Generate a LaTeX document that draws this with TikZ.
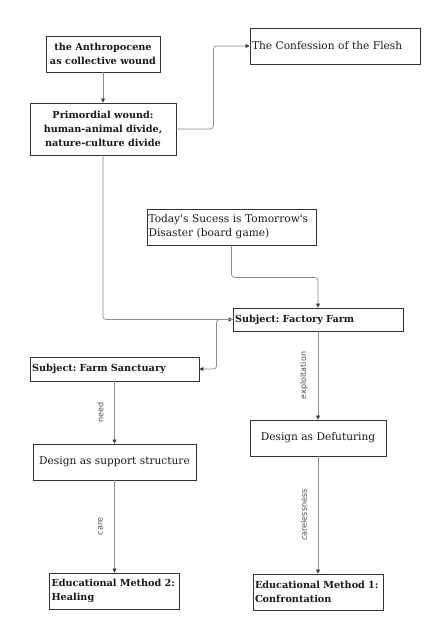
\documentclass[tikz,border=0pt]{standalone}
\usepackage{fontspec}
\setmainfont{DejaVu Serif}
\setsansfont{DejaVu Sans}
\usetikzlibrary{arrows.meta,positioning}
\definecolor{boxline}{HTML}{333333}
\definecolor{wirecol}{HTML}{8C8C8C}
\definecolor{tipcol}{HTML}{3A3A3A}
\tikzset{
  blk/.style={rectangle, draw=boxline, line width=0.9pt, inner xsep=2pt, inner ysep=0pt,
    text=black!90, font=\fontsize{10.6}{14}\selectfont\frenchspacing},
  bblk/.style={blk, font=\fontsize{9.7}{14}\selectfont\bfseries\frenchspacing},
  wire/.style={draw=wirecol, line width=0.7pt, rounded corners=3pt,
    -{Triangle[length=4pt,width=4pt,color=tipcol]}},
  lbl/.style={font=\sffamily\fontsize{8}{9}\selectfont, text=black!70, midway,
    xshift=-14pt, rotate=90, anchor=center, inner sep=0pt}
}
\begin{document}
\begin{tikzpicture}[x=1pt,y=-1pt]
      \useasboundingbox (0,0) rectangle (430,640);
      \node[bblk, minimum width=114pt, minimum height=36pt, align=center] at (103,54) (anth)
        {the Anthropocene\\as collective wound};
      \node[bblk, minimum width=146pt, minimum height=52pt, align=center] at (103,129) (prim)
        {Primordial wound:\\human-animal divide,\\nature-culture divide};
      \node[blk, text width=166pt, minimum height=36pt, align=left] at (335,46) (flesh)
        {The Confession of the Flesh};
      \node[blk, text width=166pt, minimum height=36pt, align=left, inner xsep=1.5pt] at (231.5,227) (game)
        {Today\textquotesingle s Sucess is Tomorrow\textquotesingle s\\Disaster (board game)};
      \node[bblk, text width=166pt, minimum height=23pt, align=left] at (318,319.5) (factory)
        {Subject: Factory Farm};
      \node[bblk, text width=165pt, minimum height=24pt, align=left] at (114.5,369) (sanct)
        {Subject: Farm Sanctuary};
      \node[blk, minimum width=163pt, minimum height=36pt, align=center] at (114.5,462) (support)
        {Design as support structure};
      \node[blk, minimum width=136pt, minimum height=36pt, align=center] at (318,438) (defut)
        {Design as Defuturing};
      \node[bblk, text width=126pt, minimum height=36pt, align=left] at (114.5,591) (heal)
        {Educational Method 2:\\Healing};
      \node[bblk, text width=126pt, minimum height=36pt, align=left] at (318,592) (confr)
        {Educational Method 1:\\Confrontation};
      % connectors
      \draw[wire] (anth) -- (prim);
      \draw[wire] (prim.east) -- ++(37,0) |- (flesh.west);
      \draw[wire] (prim.south) |- (factory.west);
      \draw[wire] (game.south) -- ++(0,32) -| (factory.north);
      \draw[wire] (factory.west) -- ++(-16,0) |- (sanct.east);
      \draw[wire] (factory) -- node[lbl] {exploitation} (defut);
      \draw[wire] (sanct) -- node[lbl] {need} (support);
      \draw[wire] (support) -- node[lbl] {care} (heal);
      \draw[wire] (defut) -- node[lbl] {carelessness} (confr);
\end{tikzpicture}
\end{document}
